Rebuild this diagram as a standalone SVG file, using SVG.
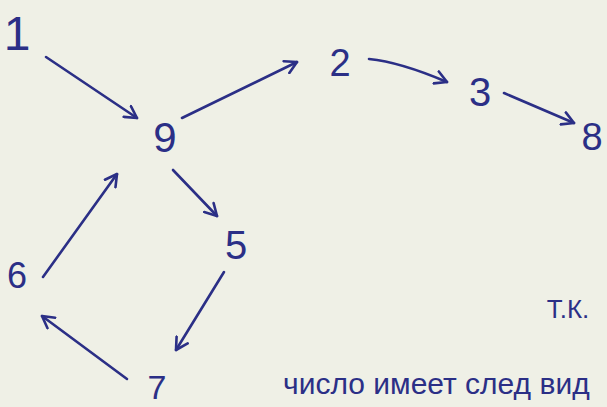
<svg xmlns="http://www.w3.org/2000/svg" width="607" height="407" viewBox="0 0 607 407">
<style>
.n{font-family:"Liberation Sans","DejaVu Sans",sans-serif;fill:#2b2f86;text-anchor:middle}
.e{fill:none;stroke:#2b2f86;stroke-width:2.6;stroke-linecap:round;marker-end:url(#ah)}
</style>
<defs>
<marker id="ah" viewBox="0 0 12 12" refX="10" refY="6" markerWidth="6" markerHeight="6" orient="auto" markerUnits="strokeWidth">
<path d="M1,1 L10,6 L1,11" fill="none" stroke="#2b2f86" stroke-width="2" stroke-linecap="round" stroke-linejoin="round"/>
</marker>
</defs>
<rect width="607" height="407" fill="#eff0e6"/>
<g id="connectors">
<path class="e" d="M46,57 L137,118"/>
<path class="e" d="M182,118 L297,62"/>
<path class="e" d="M369,59 Q400,62 447,82"/>
<path class="e" d="M504,93 L574,123"/>
<path class="e" d="M173,170 L217,216"/>
<path class="e" d="M224,272 L176,350"/>
<path class="e" d="M43,277 L117,174"/>
<path class="e" d="M127,379 L42,316"/>
</g>
<g id="n1"><text class="n" x="17" y="50" font-size="48">1</text></g>
<g id="n9"><text class="n" x="165" y="152" font-size="42">9</text></g>
<g id="n2"><text class="n" x="340" y="76" font-size="38">2</text></g>
<g id="n3"><text class="n" x="480" y="106" font-size="40">3</text></g>
<g id="n8"><text class="n" x="592" y="150" font-size="38">8</text></g>
<g id="n5"><text class="n" x="236" y="259" font-size="40">5</text></g>
<g id="n6"><text class="n" x="17" y="288" font-size="36">6</text></g>
<g id="n7"><text class="n" x="157" y="399" font-size="34">7</text></g>
<g id="notes">
<text class="n" x="568" y="318" font-size="26">Т.К.</text>
<text class="n" x="283" y="394" font-size="30" style="text-anchor:start">число имеет след вид</text>
</g>
</svg>
